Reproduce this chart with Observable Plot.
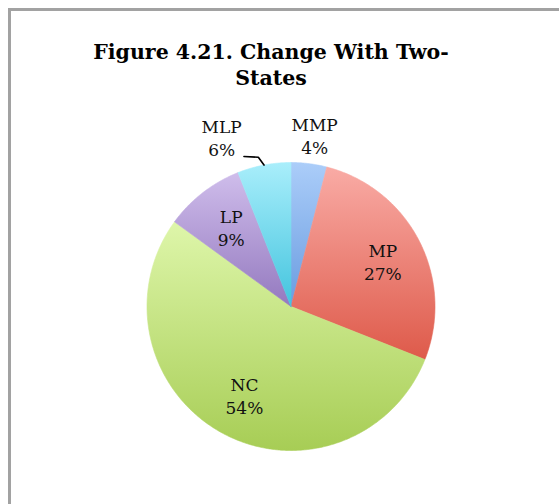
<!DOCTYPE html>
<html>
<head>
<meta charset="utf-8">
<script src="https://cdn.jsdelivr.net/npm/d3@7"></script>
<script src="https://cdn.jsdelivr.net/npm/@observablehq/plot@0.6"></script>
<style>
  html, body { margin: 0; padding: 0; background: #fff; }
  #wrap { position: relative; width: 559px; height: 504px; overflow: hidden; background: #fff; }
  #frame { position: absolute; left: 8px; top: 8px; width: 700px; height: 700px;
           border-top: 3px solid #a2a2a2; border-left: 3px solid #a2a2a2; box-sizing: border-box; }
  #title { position: absolute; left: 0; top: 40px; width: 542px; text-align: center;
           font-family: "DejaVu Serif", serif; font-weight: bold; font-size: 20.5px; line-height: 25.5px; color: #000; }
  #chart { position: absolute; left: 0; top: 100px; }
</style>
</head>
<body>
<div id="wrap">
  <div id="frame"></div>
  <div id="title">Figure 4.21. Change With Two-<br>States</div>
  <div id="chart"></div>
</div>
<script>
// ---- data ----
const categories = ["MMP", "MP", "NC", "LP", "MLP"];
const values = [4, 27, 54, 9, 6];
const percentLabels = ["4%", "27%", "54%", "9%", "6%"];

// ---- styles ----
const gradTop = ["#abcdf9", "#f9aba5", "#def6aa", "#cfbdeb", "#a9eefb"];
const gradBottom = ["#6a9ce0", "#de5a4a", "#a7cd55", "#9479bf", "#43c4de"];

// ---- layout ----
const W = 559, H = 404;
const CX = 290.5, CY = 206, R = 144;
const insideR = 0.70, outsideR = 1.2;

const arcs = d3.pie().sort(null).value(d => d)(values);

// polygon points per slice (unit radius, y up, angle 0 at 12 o'clock clockwise)
const slicePoints = arcs.map((a, i) => {
  const pts = [{cat: categories[i], x: 0, y: 0}];
  const n = Math.max(8, Math.ceil((a.endAngle - a.startAngle) / (Math.PI / 360)));
  for (let k = 0; k <= n; k++) {
    const t = a.startAngle + (a.endAngle - a.startAngle) * k / n;
    pts.push({cat: categories[i], x: Math.sin(t), y: Math.cos(t)});
  }
  pts.push({cat: categories[i], x: 0, y: 0});
  return pts;
});

const circlePts = d3.range(0, 361).map(d => ({x: Math.sin(d * Math.PI / 180), y: Math.cos(d * Math.PI / 180)}));

const labelData = arcs.map((a, i) => {
  const mid = (a.startAngle + a.endAngle) / 2;
  const outside = values[i] < 7;
  const r = outside ? outsideR : insideR;
  return {cat: categories[i], text: categories[i] + "\n" + percentLabels[i],
          x: r * Math.sin(mid), y: r * Math.cos(mid), outside, mid};
});

// leader line for the displaced small slice (MLP)
const mlp = labelData[4];
const leader = [
  {x: Math.sin(mlp.mid), y: Math.cos(mlp.mid)},
  {x: 1.05 * Math.sin(mlp.mid) - 0.03, y: 1.05 * Math.cos(mlp.mid) + 0.005},
  {x: 1.05 * Math.sin(mlp.mid) - 0.13, y: 1.05 * Math.cos(mlp.mid) + 0.01}
];

const marks = [
  Plot.line(circlePts, {x: "x", y: "y", fill: "rgba(0,0,0,0.28)", stroke: "none", dy: 3, ariaLabel: "pie-shadow"}),
  ...slicePoints.map((pts, i) =>
    Plot.line(pts, {x: "x", y: "y", fill: `url(#grad${i})`, stroke: `url(#grad${i})`, strokeWidth: 0.6, curve: "linear-closed"})
  ),
  Plot.line(leader, {x: "x", y: "y", stroke: "#000", strokeWidth: 1.6}),
  Plot.text(labelData.filter(d => d.cat !== "MLP"), {
    x: "x", y: "y", text: "text", lineHeight: 1.38, dx: 2,
    fontFamily: "DejaVu Serif", fontSize: 17, fill: "#111"
  }),
  Plot.text(labelData.filter(d => d.cat === "MLP"), {
    x: "x", y: "y", text: "text", lineHeight: 1.38, dx: -37,
    fontFamily: "DejaVu Serif", fontSize: 17, fill: "#111"
  })
];

const plot = Plot.plot({
  width: W, height: H,
  marginTop: 0, marginRight: 0, marginBottom: 0, marginLeft: 0,
  x: {domain: [-CX / R, (W - CX) / R], axis: null},
  y: {domain: [-(H - CY) / R, CY / R], axis: null},
  style: {background: "transparent", overflow: "visible"},
  marks
});

// gradient definitions
const ns = "http://www.w3.org/2000/svg";
const defs = document.createElementNS(ns, "defs");
categories.forEach((c, i) => {
  const g = document.createElementNS(ns, "linearGradient");
  g.setAttribute("id", "grad" + i);
  g.setAttribute("x1", "0"); g.setAttribute("y1", "0");
  g.setAttribute("x2", "0"); g.setAttribute("y2", "1");
  const s1 = document.createElementNS(ns, "stop");
  s1.setAttribute("offset", "0"); s1.setAttribute("stop-color", gradTop[i]);
  const s2 = document.createElementNS(ns, "stop");
  s2.setAttribute("offset", "1"); s2.setAttribute("stop-color", gradBottom[i]);
  g.appendChild(s1); g.appendChild(s2);
  defs.appendChild(g);
});
plot.insertBefore(defs, plot.firstChild);
const sh = plot.querySelector('g[aria-label="pie-shadow"]');
if (sh) sh.style.filter = "blur(3px)";

document.getElementById("chart").appendChild(plot);
</script>
</body>
</html>
